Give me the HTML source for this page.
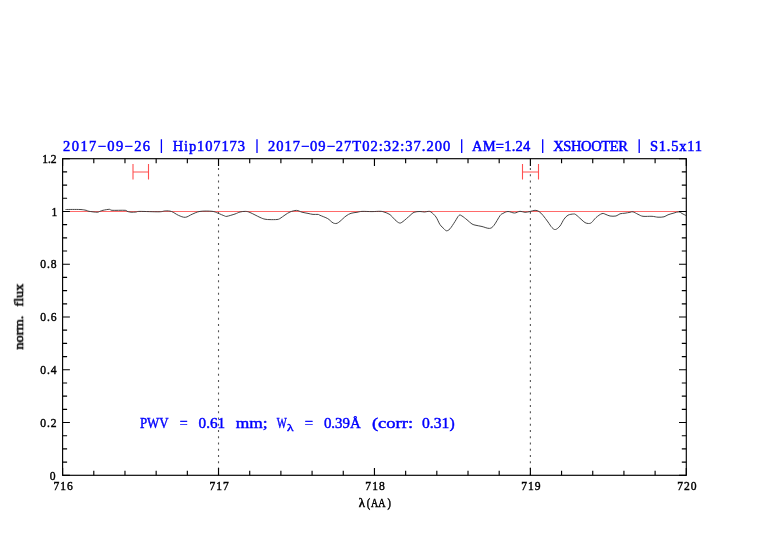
<!DOCTYPE html>
<html><head><meta charset="utf-8"><style>
html,body{margin:0;padding:0;background:#fff;}
svg{display:block;}
text{will-change:transform;}
</style></head><body>
<svg width="782" height="542" viewBox="0 0 782 542">
<rect width="782" height="542" fill="#fff"/>
<g stroke="#555" stroke-width="1.1" stroke-dasharray="2 4.235" fill="none">
<line x1="218.52" y1="168.1" x2="218.52" y2="475"/>
<line x1="530.38" y1="168.1" x2="530.38" y2="475"/>
</g>
<path d="M62.6 211.47H686.3" stroke="#ff6a6a" stroke-width="1.05" fill="none"/>
<path d="M133 164.1V179.6M148.5 164.1V179.6M133 172H148.5M522.5 164.1V179.6M538.5 164.1V179.6M522.5 172H538.5" stroke="#ff5050" stroke-width="1.1" fill="none"/>
<path d="M65.50 209.50 C67.92 209.50 76.58 209.37 80.00 209.50 C83.42 209.63 84.50 210.00 86.00 210.30 C87.50 210.60 87.17 210.98 89.00 211.30 C90.83 211.62 95.17 212.20 97.00 212.20 C98.83 212.20 99.00 211.62 100.00 211.30 C101.00 210.98 101.42 210.63 103.00 210.30 C104.58 209.97 108.00 209.30 109.50 209.30 C111.00 209.30 109.42 210.13 112.00 210.30 C114.58 210.47 122.50 210.13 125.00 210.30 C127.50 210.47 126.00 210.98 127.00 211.30 C128.00 211.62 129.50 212.08 131.00 212.20 C132.50 212.32 134.50 212.13 136.00 212.00 C137.50 211.87 136.17 211.43 140.00 211.40 C143.83 211.37 154.78 211.88 159.00 211.80 C163.22 211.72 163.22 210.95 165.30 210.90 C167.38 210.85 169.32 210.77 171.50 211.50 C173.68 212.23 176.10 214.33 178.40 215.30 C180.70 216.27 183.00 217.48 185.30 217.30 C187.60 217.12 189.75 215.18 192.20 214.20 C194.65 213.22 196.70 211.88 200.00 211.40 C203.30 210.92 209.00 211.00 212.00 211.30 C215.00 211.60 215.92 212.43 218.00 213.20 C220.08 213.97 223.00 215.38 224.50 215.90 C226.00 216.42 225.25 216.62 227.00 216.30 C228.75 215.98 232.83 214.72 235.00 214.00 C237.17 213.28 238.25 212.43 240.00 212.00 C241.75 211.57 243.83 211.32 245.50 211.40 C247.17 211.48 247.58 211.50 250.00 212.50 C252.42 213.50 257.50 216.28 260.00 217.40 C262.50 218.52 263.33 218.83 265.00 219.20 C266.67 219.57 268.00 219.55 270.00 219.60 C272.00 219.65 275.33 219.68 277.00 219.50 C278.67 219.32 278.67 219.25 280.00 218.50 C281.33 217.75 283.33 216.08 285.00 215.00 C286.67 213.92 288.08 212.77 290.00 212.00 C291.92 211.23 294.50 210.37 296.50 210.40 C298.50 210.43 300.08 211.70 302.00 212.20 C303.92 212.70 306.17 213.03 308.00 213.40 C309.83 213.77 311.33 214.23 313.00 214.40 C314.67 214.57 316.83 214.25 318.00 214.40 C319.17 214.55 318.38 214.60 320.00 215.30 C321.62 216.00 325.70 217.45 327.70 218.60 C329.70 219.75 330.87 221.40 332.00 222.20 C333.13 223.00 333.67 223.22 334.50 223.40 C335.33 223.58 336.08 223.65 337.00 223.30 C337.92 222.95 338.50 222.52 340.00 221.30 C341.50 220.08 344.17 217.33 346.00 216.00 C347.83 214.67 349.17 213.92 351.00 213.30 C352.83 212.68 355.17 212.62 357.00 212.30 C358.83 211.98 359.50 211.52 362.00 211.40 C364.50 211.28 369.00 211.62 372.00 211.60 C375.00 211.58 378.00 211.23 380.00 211.30 C382.00 211.37 382.33 211.45 384.00 212.00 C385.67 212.55 388.17 213.30 390.00 214.60 C391.83 215.90 393.42 218.40 395.00 219.80 C396.58 221.20 398.17 222.72 399.50 223.00 C400.83 223.28 401.25 222.75 403.00 221.50 C404.75 220.25 408.17 217.03 410.00 215.50 C411.83 213.97 412.33 212.97 414.00 212.30 C415.67 211.63 418.25 211.55 420.00 211.50 C421.75 211.45 423.17 212.02 424.50 212.00 C425.83 211.98 426.92 211.40 428.00 211.40 C429.08 211.40 429.67 211.07 431.00 212.00 C432.33 212.93 434.50 214.90 436.00 217.00 C437.50 219.10 438.67 222.63 440.00 224.60 C441.33 226.57 442.92 227.77 444.00 228.80 C445.08 229.83 445.50 230.80 446.50 230.80 C447.50 230.80 448.58 230.35 450.00 228.80 C451.42 227.25 453.50 223.73 455.00 221.50 C456.50 219.27 457.83 216.32 459.00 215.40 C460.17 214.48 460.67 215.27 462.00 216.00 C463.33 216.73 465.33 218.47 467.00 219.80 C468.67 221.13 470.50 223.08 472.00 224.00 C473.50 224.92 474.33 224.88 476.00 225.30 C477.67 225.72 479.75 225.98 482.00 226.50 C484.25 227.02 487.50 228.60 489.50 228.40 C491.50 228.20 492.25 227.42 494.00 225.30 C495.75 223.18 498.50 217.68 500.00 215.70 C501.50 213.72 501.67 214.10 503.00 213.40 C504.33 212.70 506.08 211.57 508.00 211.50 C509.92 211.43 512.50 213.03 514.50 213.00 C516.50 212.97 518.25 211.42 520.00 211.30 C521.75 211.18 523.33 212.27 525.00 212.30 C526.67 212.33 528.33 211.83 530.00 211.50 C531.67 211.17 533.50 210.30 535.00 210.30 C536.50 210.30 537.67 210.65 539.00 211.50 C540.33 212.35 541.50 213.65 543.00 215.40 C544.50 217.15 546.50 219.97 548.00 222.00 C549.50 224.03 550.75 226.35 552.00 227.60 C553.25 228.85 554.17 229.77 555.50 229.50 C556.83 229.23 558.58 227.72 560.00 226.00 C561.42 224.28 562.67 221.00 564.00 219.20 C565.33 217.40 566.42 216.07 568.00 215.20 C569.58 214.33 572.17 214.07 573.50 214.00 C574.83 213.93 574.75 213.93 576.00 214.80 C577.25 215.67 579.50 217.90 581.00 219.20 C582.50 220.50 583.75 221.88 585.00 222.60 C586.25 223.32 587.42 223.50 588.50 223.50 C589.58 223.50 590.25 223.58 591.50 222.60 C592.75 221.62 594.25 219.10 596.00 217.60 C597.75 216.10 600.33 214.12 602.00 213.60 C603.67 213.08 604.67 214.10 606.00 214.50 C607.33 214.90 608.33 215.75 610.00 216.00 C611.67 216.25 614.33 216.37 616.00 216.00 C617.67 215.63 618.50 214.27 620.00 213.80 C621.50 213.33 623.33 213.45 625.00 213.20 C626.67 212.95 628.67 212.53 630.00 212.30 C631.33 212.07 631.67 211.47 633.00 211.80 C634.33 212.13 636.33 213.55 638.00 214.30 C639.67 215.05 640.67 215.97 643.00 216.30 C645.33 216.63 649.50 216.15 652.00 216.30 C654.50 216.45 656.00 217.12 658.00 217.20 C660.00 217.28 662.33 217.20 664.00 216.80 C665.67 216.40 666.33 215.43 668.00 214.80 C669.67 214.17 672.17 213.50 674.00 213.00 C675.83 212.50 677.67 211.72 679.00 211.80 C680.33 211.88 680.83 212.88 682.00 213.50 C683.17 214.12 685.33 215.17 686.00 215.50" stroke="#3a3a3a" stroke-width="0.95" fill="none"/>
<rect x="62.6" y="158.7" width="623.70" height="316.60" stroke="#000" stroke-width="1.15" fill="none"/>
<path d="M62.60 475.30L62.60 468.00 M62.60 158.70L62.60 166.00 M93.79 475.30L93.79 470.80 M93.79 158.70L93.79 163.20 M124.97 475.30L124.97 470.80 M124.97 158.70L124.97 163.20 M156.16 475.30L156.16 470.80 M156.16 158.70L156.16 163.20 M187.34 475.30L187.34 470.80 M187.34 158.70L187.34 163.20 M218.52 475.30L218.52 468.00 M218.52 158.70L218.52 166.00 M249.71 475.30L249.71 470.80 M249.71 158.70L249.71 163.20 M280.89 475.30L280.89 470.80 M280.89 158.70L280.89 163.20 M312.08 475.30L312.08 470.80 M312.08 158.70L312.08 163.20 M343.26 475.30L343.26 470.80 M343.26 158.70L343.26 163.20 M374.45 475.30L374.45 468.00 M374.45 158.70L374.45 166.00 M405.64 475.30L405.64 470.80 M405.64 158.70L405.64 163.20 M436.82 475.30L436.82 470.80 M436.82 158.70L436.82 163.20 M468.01 475.30L468.01 470.80 M468.01 158.70L468.01 163.20 M499.19 475.30L499.19 470.80 M499.19 158.70L499.19 163.20 M530.38 475.30L530.38 468.00 M530.38 158.70L530.38 166.00 M561.56 475.30L561.56 470.80 M561.56 158.70L561.56 163.20 M592.74 475.30L592.74 470.80 M592.74 158.70L592.74 163.20 M623.93 475.30L623.93 470.80 M623.93 158.70L623.93 163.20 M655.11 475.30L655.11 470.80 M655.11 158.70L655.11 163.20 M686.30 475.30L686.30 468.00 M686.30 158.70L686.30 166.00 M62.60 475.30L69.90 475.30 M686.30 475.30L679.00 475.30 M62.60 462.11L67.10 462.11 M686.30 462.11L681.80 462.11 M62.60 448.92L67.10 448.92 M686.30 448.92L681.80 448.92 M62.60 435.73L67.10 435.73 M686.30 435.73L681.80 435.73 M62.60 422.53L69.90 422.53 M686.30 422.53L679.00 422.53 M62.60 409.34L67.10 409.34 M686.30 409.34L681.80 409.34 M62.60 396.15L67.10 396.15 M686.30 396.15L681.80 396.15 M62.60 382.96L67.10 382.96 M686.30 382.96L681.80 382.96 M62.60 369.77L69.90 369.77 M686.30 369.77L679.00 369.77 M62.60 356.57L67.10 356.57 M686.30 356.57L681.80 356.57 M62.60 343.38L67.10 343.38 M686.30 343.38L681.80 343.38 M62.60 330.19L67.10 330.19 M686.30 330.19L681.80 330.19 M62.60 317.00L69.90 317.00 M686.30 317.00L679.00 317.00 M62.60 303.81L67.10 303.81 M686.30 303.81L681.80 303.81 M62.60 290.62L67.10 290.62 M686.30 290.62L681.80 290.62 M62.60 277.43L67.10 277.43 M686.30 277.43L681.80 277.43 M62.60 264.23L69.90 264.23 M686.30 264.23L679.00 264.23 M62.60 251.04L67.10 251.04 M686.30 251.04L681.80 251.04 M62.60 237.85L67.10 237.85 M686.30 237.85L681.80 237.85 M62.60 224.66L67.10 224.66 M686.30 224.66L681.80 224.66 M62.60 211.47L69.90 211.47 M686.30 211.47L679.00 211.47 M62.60 198.27L67.10 198.27 M686.30 198.27L681.80 198.27 M62.60 185.08L67.10 185.08 M686.30 185.08L681.80 185.08 M62.60 171.89L67.10 171.89 M686.30 171.89L681.80 171.89 M62.60 158.70L69.90 158.70 M686.30 158.70L679.00 158.70" stroke="#000" stroke-width="1.15" fill="none"/>
<path d="M161.4 139.3L161.4 152.9 M257.0 139.3L257.0 152.9 M461.7 139.3L461.7 152.9 M542.7 139.3L542.7 152.9 M639.2 139.3L639.2 152.9" stroke="#0000ff" stroke-width="1.3" fill="none"/>
<text x="63.1" y="150.6" font-family="Liberation Serif" font-size="14.5" font-weight="normal" fill="#0000ff" textLength="87.0" lengthAdjust="spacing" text-anchor="start" stroke="#0000ff" stroke-width="0.5">2017&#8722;09&#8722;26</text>
<text x="172.7" y="150.6" font-family="Liberation Serif" font-size="14.5" font-weight="normal" fill="#0000ff" textLength="72.3" lengthAdjust="spacing" text-anchor="start" stroke="#0000ff" stroke-width="0.5">Hip107173</text>
<text x="267.9" y="150.6" font-family="Liberation Serif" font-size="14.5" font-weight="normal" fill="#0000ff" textLength="182.3" lengthAdjust="spacing" text-anchor="start" stroke="#0000ff" stroke-width="0.5">2017&#8722;09&#8722;27T02:32:37.200</text>
<text x="472.0" y="150.6" font-family="Liberation Serif" font-size="14.5" font-weight="normal" fill="#0000ff" textLength="58.2" lengthAdjust="spacing" text-anchor="start" stroke="#0000ff" stroke-width="0.5">AM=1.24</text>
<text x="553.2" y="150.6" font-family="Liberation Serif" font-size="14.5" font-weight="normal" fill="#0000ff" textLength="74.6" lengthAdjust="spacing" text-anchor="start" stroke="#0000ff" stroke-width="0.5">XSHOOTER</text>
<text x="649.9" y="150.6" font-family="Liberation Serif" font-size="14.5" font-weight="normal" fill="#0000ff" textLength="52.2" lengthAdjust="spacing" text-anchor="start" stroke="#0000ff" stroke-width="0.5">S1.5x11</text>
<text x="42.3" y="162.9" font-family="Liberation Serif" font-size="11.6" font-weight="normal" fill="#000" textLength="14.2" lengthAdjust="spacing" text-anchor="start" stroke="#000" stroke-width="0.4">1.2</text>
<text x="51.4" y="215.67" font-family="Liberation Serif" font-size="11.6" font-weight="normal" fill="#000" textLength="5.1" lengthAdjust="spacing" text-anchor="start" stroke="#000" stroke-width="0.4">1</text>
<text x="40.3" y="268.43" font-family="Liberation Serif" font-size="11.6" font-weight="normal" fill="#000" textLength="16.2" lengthAdjust="spacing" text-anchor="start" stroke="#000" stroke-width="0.4">0.8</text>
<text x="40.3" y="321.2" font-family="Liberation Serif" font-size="11.6" font-weight="normal" fill="#000" textLength="16.2" lengthAdjust="spacing" text-anchor="start" stroke="#000" stroke-width="0.4">0.6</text>
<text x="40.3" y="373.97" font-family="Liberation Serif" font-size="11.6" font-weight="normal" fill="#000" textLength="16.2" lengthAdjust="spacing" text-anchor="start" stroke="#000" stroke-width="0.4">0.4</text>
<text x="40.3" y="426.73" font-family="Liberation Serif" font-size="11.6" font-weight="normal" fill="#000" textLength="16.2" lengthAdjust="spacing" text-anchor="start" stroke="#000" stroke-width="0.4">0.2</text>
<text x="49.8" y="479.5" font-family="Liberation Serif" font-size="11.6" font-weight="normal" fill="#000" textLength="6.7" lengthAdjust="spacing" text-anchor="start" stroke="#000" stroke-width="0.4">0</text>
<text x="53.5" y="490.1" font-family="Liberation Serif" font-size="11.6" font-weight="normal" fill="#000" textLength="19.4" lengthAdjust="spacing" text-anchor="start" stroke="#000" stroke-width="0.4">716</text>
<text x="209.42" y="490.1" font-family="Liberation Serif" font-size="11.6" font-weight="normal" fill="#000" textLength="19.4" lengthAdjust="spacing" text-anchor="start" stroke="#000" stroke-width="0.4">717</text>
<text x="365.35" y="490.1" font-family="Liberation Serif" font-size="11.6" font-weight="normal" fill="#000" textLength="19.4" lengthAdjust="spacing" text-anchor="start" stroke="#000" stroke-width="0.4">718</text>
<text x="521.27" y="490.1" font-family="Liberation Serif" font-size="11.6" font-weight="normal" fill="#000" textLength="19.4" lengthAdjust="spacing" text-anchor="start" stroke="#000" stroke-width="0.4">719</text>
<text x="677.2" y="490.1" font-family="Liberation Serif" font-size="11.6" font-weight="normal" fill="#000" textLength="19.4" lengthAdjust="spacing" text-anchor="start" stroke="#000" stroke-width="0.4">720</text>
<g font-family="Liberation Serif" font-size="11.5" fill="#000" stroke="#000" stroke-width="0.5">
<text x="358.7" y="506.8" textLength="6.2" lengthAdjust="spacingAndGlyphs">&#955;</text>
<text x="366.8" y="507.4" font-size="12" textLength="3.4" lengthAdjust="spacingAndGlyphs">(</text>
<text x="371" y="506.8" textLength="14.5" lengthAdjust="spacingAndGlyphs">AA</text>
<text x="387.4" y="507.4" font-size="12" textLength="3.4" lengthAdjust="spacingAndGlyphs">)</text>
<text transform="translate(23.1 349.7) rotate(-90)" x="0" y="0" font-size="12.5" textLength="34.2" lengthAdjust="spacingAndGlyphs">norm.</text>
<text transform="translate(23.1 306.6) rotate(-90)" x="0" y="0" font-size="12.5" textLength="22.9" lengthAdjust="spacingAndGlyphs">flux</text>
</g>
<g font-family="Liberation Serif" font-size="15" fill="#0000ff" stroke="#0000ff" stroke-width="0.45">
<text x="139.9" y="427.9" textLength="28.6" lengthAdjust="spacingAndGlyphs">PWV</text>
<text x="179.8" y="427.9" textLength="7.9" lengthAdjust="spacingAndGlyphs">=</text>
<text x="198.6" y="427.9" textLength="26.6" lengthAdjust="spacingAndGlyphs">0.61</text>
<text x="235.8" y="427.9" textLength="31.9" lengthAdjust="spacingAndGlyphs">mm;</text>
<text x="276.8" y="427.6" textLength="10" lengthAdjust="spacingAndGlyphs">W</text>
<text x="287.1" y="431.2" font-size="11" textLength="6.6" lengthAdjust="spacingAndGlyphs">&#955;</text>
<text x="304.8" y="427.9" textLength="8.3" lengthAdjust="spacingAndGlyphs">=</text>
<text x="323.9" y="427.9" textLength="36.9" lengthAdjust="spacingAndGlyphs">0.39&#197;</text>
<text x="371.9" y="427.9" textLength="41.2" lengthAdjust="spacingAndGlyphs">(corr:</text>
<text x="422" y="427.9" textLength="32.6" lengthAdjust="spacingAndGlyphs">0.31)</text>
</g>
</svg>
</body></html>
